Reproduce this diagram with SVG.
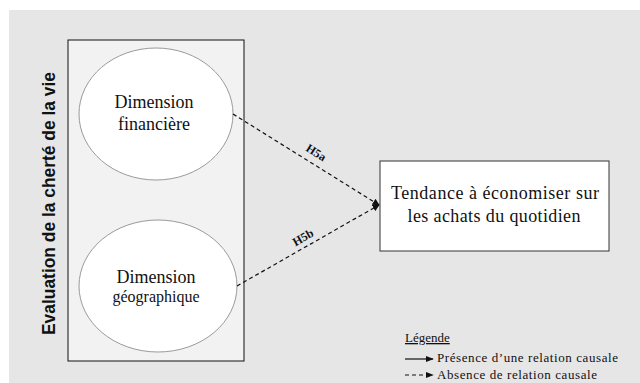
<svg xmlns="http://www.w3.org/2000/svg" width="640" height="383" viewBox="0 0 640 383">
<style>
.serif{font-family:"Liberation Serif","Times New Roman",serif;fill:#111}
.node{fill:#fff;stroke:#9a9a9a;stroke-width:1}
.dash{stroke:#111;stroke-width:1.2;stroke-dasharray:4 3;fill:none}
.solid{stroke:#111;stroke-width:1.2;fill:none}
</style>
<defs>
<marker id="ah" viewBox="0 0 10 10" refX="9" refY="5" markerWidth="7" markerHeight="7" orient="auto" markerUnits="userSpaceOnUse">
<path d="M0,0 L10,5 L0,10 z" fill="#111"/>
</marker>
<marker id="ahl" viewBox="0 0 10 10" refX="9" refY="5" markerWidth="8" markerHeight="8" orient="auto" markerUnits="userSpaceOnUse">
<path d="M0,1 L10,5 L0,9 z" fill="#111"/>
</marker>
</defs>
<rect x="0" y="0" width="640" height="383" fill="#fff"/>
<rect x="9" y="10" width="631" height="373" fill="#e6e6e6"/>
<g id="group-box">
<rect x="68" y="40" width="176" height="321" fill="#f2f2f2" stroke="#111" stroke-width="1"/>
<text transform="translate(55,335) rotate(-90)" font-family="'Liberation Sans',Arial,sans-serif" font-weight="bold" font-size="18" fill="#111" textLength="263" lengthAdjust="spacingAndGlyphs">Evaluation de la cherté de la vie</text>
</g>
<g id="node-financiere">
<ellipse class="node" cx="156" cy="114" rx="77" ry="66"/>
<text class="serif" x="154" y="108" font-size="18" text-anchor="middle">Dimension</text>
<text class="serif" x="154" y="130" font-size="18" text-anchor="middle">financière</text>
</g>
<g id="node-geographique">
<ellipse class="node" cx="158" cy="286" rx="79" ry="66"/>
<text class="serif" x="156" y="283" font-size="18" text-anchor="middle">Dimension</text>
<text class="serif" x="156" y="302" font-size="16" text-anchor="middle">géographique</text>
</g>
<g id="node-tendance">
<rect x="380" y="161" width="229" height="90" fill="#fff" stroke="#333" stroke-width="1"/>
<text class="serif" x="495" y="199" font-size="18" text-anchor="middle" textLength="208" lengthAdjust="spacing">Tendance à économiser sur</text>
<text class="serif" x="494" y="222" font-size="18" text-anchor="middle" textLength="173" lengthAdjust="spacing">les achats du quotidien</text>
</g>
<g id="connectors">
<line class="dash" x1="233" y1="114" x2="379" y2="205" marker-end="url(#ah)"/>
<line class="dash" x1="237" y1="286" x2="379" y2="205" marker-end="url(#ah)"/>
<text class="serif" font-size="12" font-weight="bold" text-anchor="middle" transform="translate(314,156) rotate(32)">H5a</text>
<text class="serif" font-size="12" font-weight="bold" text-anchor="middle" transform="translate(305,241) rotate(-30)">H5b</text>
</g>
<g id="legend">
<text class="serif" x="405" y="342" font-size="13" text-decoration="underline">Légende</text>
<line class="solid" x1="405" y1="359" x2="433" y2="359" marker-end="url(#ahl)"/>
<text class="serif" x="437" y="362" font-size="13" textLength="181" lengthAdjust="spacing">Présence d’une relation  causale</text>
<line class="dash" x1="405" y1="375" x2="433" y2="375" marker-end="url(#ahl)" stroke-dasharray="4 4"/>
<text class="serif" x="437" y="379" font-size="13" textLength="160" lengthAdjust="spacing">Absence de relation  causale</text>
</g>
</svg>
